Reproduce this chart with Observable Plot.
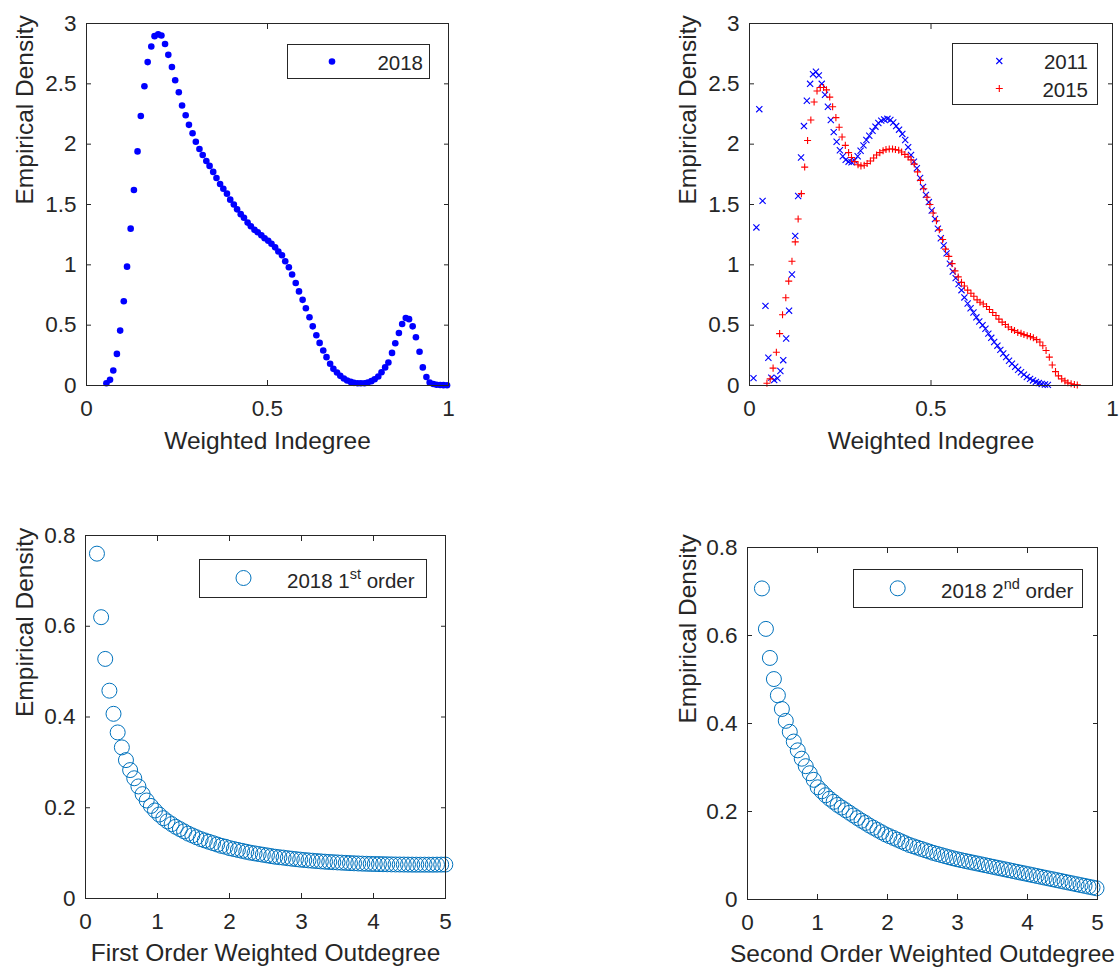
<!DOCTYPE html>
<html><head><meta charset="utf-8">
<script src="https://cdn.jsdelivr.net/npm/d3@7"></script>
<script src="https://cdn.jsdelivr.net/npm/@observablehq/plot@0.6"></script>
<style>
html,body{margin:0;padding:0;background:#fff;}
#root{position:relative;width:1120px;height:967px;overflow:hidden;background:#fff;font-family:"Liberation Sans",Arial,sans-serif;}
.panel{position:absolute;}
#legend{position:absolute;left:0;top:0;pointer-events:none;}
</style></head><body><div id="root"></div>
<script>
// ---------------- DATA ----------------
// Panel 1: 2018 weighted indegree density
const in2018X = [0.055,0.065,0.074,0.084,0.093,0.103,0.112,0.122,0.131,0.141,0.150,0.160,0.169,0.179,0.188,0.198,0.207,0.217,0.226,0.236,0.245,0.255,0.264,0.274,0.283,0.293,0.302,0.312,0.321,0.331,0.340,0.350,0.359,0.369,0.378,0.388,0.397,0.407,0.416,0.426,0.435,0.445,0.454,0.464,0.473,0.483,0.492,0.502,0.511,0.521,0.530,0.540,0.549,0.559,0.568,0.578,0.587,0.597,0.606,0.616,0.625,0.635,0.644,0.654,0.663,0.673,0.682,0.692,0.701,0.711,0.720,0.730,0.739,0.749,0.758,0.768,0.777,0.787,0.796,0.806,0.815,0.825,0.834,0.844,0.853,0.863,0.872,0.882,0.891,0.901,0.910,0.920,0.929,0.939,0.948,0.958,0.967,0.977,0.986,0.996];
const in2018Y = [0.019,0.047,0.124,0.262,0.455,0.698,0.985,1.30,1.62,1.94,
  2.233,2.48,2.68,2.81,2.895,2.91,2.90,2.83,2.74,2.64,
  2.53,2.43,2.32,2.24,2.16,2.09,2.02,1.96,1.91,1.86,
  1.82,1.77,1.72,1.67,1.63,1.59,1.54,1.50,1.46,1.42,
  1.39,1.35,1.32,1.29,1.27,1.245,1.22,1.20,1.175,1.145,
  1.11,1.08,1.03,0.98,0.92,0.85,0.78,0.71,0.64,0.566,
  0.49,0.417,0.353,0.29,0.235,0.18,0.138,0.108,0.08,0.058,
  0.041,0.03,0.022,0.019,0.019,0.019,0.025,0.036,0.052,0.075,
  0.11,0.15,0.19,0.27,0.35,0.435,0.51,0.56,0.55,0.49,
  0.40,0.28,0.15,0.07,0.025,0.012,0.006,0.004,0.003,0.002];

// Panel 2: 2011 and 2015 weighted indegree densities
const in2011X = [0.011,0.019,0.027,0.036,0.044,0.052,0.060,0.068,0.077,0.085,0.093,0.101,0.109,0.117,0.126,0.134,0.142,0.150,0.158,0.167,0.175,0.183,0.191,0.199,0.208,0.216,0.224,0.232,0.240,0.249,0.257,0.265,0.273,0.281,0.289,0.298,0.306,0.314,0.322,0.330,0.339,0.347,0.355,0.363,0.371,0.380,0.388,0.396,0.404,0.412,0.421,0.429,0.437,0.445,0.453,0.461,0.470,0.478,0.486,0.494,0.502,0.511,0.519,0.527,0.535,0.543,0.552,0.560,0.568,0.576,0.584,0.592,0.601,0.609,0.617,0.625,0.633,0.642,0.650,0.658,0.666,0.674,0.683,0.691,0.699,0.707,0.715,0.723,0.732,0.740,0.748,0.756,0.764,0.773,0.781,0.789,0.797,0.805,0.814,0.822];
const in2011Y = [0.061,1.31,2.29,1.53,0.66,0.23,0.065,0.045,0.06,0.12,
  0.21,0.39,0.62,0.92,1.24,1.57,1.89,2.15,2.36,2.50,
  2.58,2.60,2.57,2.50,2.41,2.31,2.20,2.10,2.02,1.95,
  1.90,1.87,1.855,1.85,1.865,1.90,1.945,1.99,2.035,2.07,
  2.11,2.145,2.175,2.195,2.205,2.21,2.20,2.18,2.15,2.12,
  2.085,2.035,1.975,1.91,1.855,1.80,1.72,1.645,1.58,1.52,
  1.45,1.38,1.30,1.22,1.16,1.095,1.01,0.945,0.89,0.84,
  0.79,0.73,0.68,0.64,0.605,0.565,0.53,0.50,0.47,0.43,
  0.395,0.36,0.33,0.295,0.265,0.235,0.205,0.18,0.155,0.13,
  0.11,0.09,0.07,0.055,0.042,0.03,0.02,0.013,0.008,0.005];
const in2015X = [0.048,0.057,0.065,0.074,0.083,0.091,0.100,0.108,0.117,0.126,0.134,0.143,0.152,0.160,0.169,0.178,0.186,0.195,0.204,0.212,0.221,0.229,0.238,0.247,0.255,0.264,0.273,0.281,0.290,0.299,0.307,0.316,0.324,0.333,0.342,0.350,0.359,0.368,0.376,0.385,0.394,0.402,0.411,0.419,0.428,0.437,0.445,0.454,0.463,0.471,0.480,0.489,0.497,0.506,0.515,0.523,0.532,0.540,0.549,0.558,0.566,0.575,0.584,0.592,0.601,0.610,0.618,0.627,0.635,0.644,0.653,0.661,0.670,0.679,0.687,0.696,0.705,0.713,0.722,0.730,0.739,0.748,0.756,0.765,0.774,0.782,0.791,0.800,0.808,0.817,0.826,0.834,0.843,0.851,0.860,0.869,0.877,0.886,0.895,0.903];
const in2015Y = [0.019,0.055,0.144,0.276,0.43,0.586,0.727,0.865,1.03,1.19,
  1.38,1.59,1.81,2.03,2.20,2.35,2.44,2.47,2.47,2.45,
  2.39,2.31,2.22,2.14,2.06,1.99,1.93,1.89,1.855,1.83,
  1.82,1.825,1.84,1.86,1.885,1.91,1.93,1.945,1.955,1.96,
  1.96,1.955,1.95,1.935,1.915,1.895,1.87,1.835,1.77,1.70,
  1.63,1.56,1.50,1.43,1.365,1.29,1.21,1.13,1.07,1.01,
  0.95,0.90,0.855,0.825,0.79,0.765,0.74,0.71,0.69,0.675,
  0.655,0.63,0.605,0.58,0.55,0.525,0.505,0.485,0.465,0.455,
  0.44,0.432,0.422,0.413,0.405,0.395,0.38,0.36,0.33,0.29,
  0.235,0.17,0.115,0.08,0.055,0.038,0.022,0.014,0.008,0.005];

// Panel 3: 2018 first order weighted outdegree density
const out1X = [0.159,0.217,0.274,0.332,0.389,0.447,0.505,0.562,0.620,0.677,0.735,0.793,0.850,0.908,0.965,1.023,1.081,1.138,1.196,1.253,1.311,1.369,1.426,1.484,1.541,1.599,1.657,1.714,1.772,1.829,1.887,1.945,2.002,2.060,2.117,2.175,2.233,2.290,2.348,2.405,2.463,2.521,2.578,2.636,2.693,2.751,2.809,2.866,2.924,2.981,3.039,3.097,3.154,3.212,3.269,3.327,3.385,3.442,3.500,3.557,3.615,3.673,3.730,3.788,3.845,3.903,3.961,4.018,4.076,4.133,4.191,4.249,4.306,4.364,4.421,4.479,4.537,4.594,4.652,4.709,4.767,4.825,4.882,4.940,4.997];
const out1Y = [0.760,0.620,0.528,0.458,0.407,0.366,0.333,0.305,0.283,0.265,
  0.247,0.230,0.216,0.204,0.194,0.185,0.177,0.170,0.164,0.158,
  0.153,0.148,0.143,0.139,0.135,0.131,0.128,0.125,0.122,0.119,
  0.116,0.114,0.111,0.109,0.107,0.105,0.103,0.101,0.0995,0.098,
  0.0965,0.095,0.0935,0.092,0.091,0.090,0.0888,0.0877,0.0867,0.0857,
  0.0848,0.084,0.0832,0.0825,0.0818,0.0811,0.0805,0.0800,0.0795,0.0790,
  0.0785,0.0780,0.0776,0.0772,0.0768,0.0765,0.0762,0.0760,0.0758,0.0756,
  0.0754,0.0752,0.0750,0.0749,0.0748,0.0747,0.0746,0.0745,0.0745,0.0745,
  0.0745,0.0745,0.0746,0.0747,0.0748];

// Panel 4: 2018 second order weighted outdegree density
const out2X = [0.206,0.263,0.320,0.377,0.434,0.491,0.547,0.604,0.661,0.718,0.775,0.832,0.889,0.946,1.003,1.060,1.116,1.173,1.230,1.287,1.344,1.401,1.458,1.515,1.572,1.629,1.685,1.742,1.799,1.856,1.913,1.970,2.027,2.084,2.141,2.198,2.254,2.311,2.368,2.425,2.482,2.539,2.596,2.653,2.710,2.767,2.823,2.880,2.937,2.994,3.051,3.108,3.165,3.222,3.279,3.336,3.392,3.449,3.506,3.563,3.620,3.677,3.734,3.791,3.848,3.905,3.961,4.018,4.075,4.132,4.189,4.246,4.303,4.360,4.417,4.474,4.530,4.587,4.644,4.701,4.758,4.815,4.872,4.929,4.986];
const out2Y = [0.707,0.615,0.549,0.501,0.464,0.433,0.406,0.381,0.359,0.339,
  0.320,0.303,0.287,0.272,0.255,0.246,0.237,0.229,0.222,0.215,
  0.209,0.203,0.197,0.191,0.185,0.179,0.174,0.168,0.163,0.158,
  0.153,0.148,0.144,0.140,0.136,0.132,0.128,0.124,0.121,0.118,
  0.115,0.112,0.109,0.106,0.1035,0.101,0.0985,0.096,0.0937,0.0915,
  0.0895,0.0876,0.0857,0.0838,0.0819,0.0800,0.0781,0.0762,0.0743,0.0724,
  0.0705,0.0686,0.0667,0.0648,0.0629,0.0610,0.0592,0.0573,0.0554,0.0535,
  0.0516,0.0497,0.0478,0.0460,0.0441,0.0422,0.0403,0.0384,0.0366,0.0347,
  0.0328,0.0310,0.0291,0.0273,0.0255];

// Axis ticks & labels
const indegTicksX = [0, 0.5, 1];
const indegTicksY = [0, 0.5, 1, 1.5, 2, 2.5, 3];
const outTicksX = [0, 1, 2, 3, 4, 5];
const outTicksY = [0, 0.2, 0.4, 0.6, 0.8];
const yLabel = "Empirical Density";
const xLabels = ["Weighted Indegree", "Weighted Indegree", "First Order Weighted Outdegree", "Second Order Weighted Outdegree"];
const legendNames = ["2018", "2011", "2015", "2018 1", "st", " order", "2018 2", "nd", " order"];

// ---------------- STYLE ----------------
const FONT = '"Liberation Sans", Arial, Helvetica, sans-serif';
const INK = "#262626";
const BLUE = "#0000ff", RED = "#ff0000", MBLUE = "#0072bd";
const fmt = d => String(d);

const root = document.getElementById("root");

function panel({left, top, width, height, ml, mr, mt, mb, xDomain, yDomain, xTicks, yTicks, marks, xLabel, xLabelDy, yLabelDx}) {
  const chart = Plot.plot({
    width, height, marginLeft: ml, marginRight: mr, marginTop: mt, marginBottom: mb,
    style: {fontFamily: FONT, fontSize: "22.5px", color: INK, background: "transparent", overflow: "visible"},
    x: {domain: xDomain, label: null},
    y: {domain: yDomain, label: null},
    marks: [
      ...marks,
      Plot.frame({stroke: INK, strokeWidth: 1}),
      Plot.axisX(xTicks, {anchor: "bottom", tickSize: -5, tickPadding: 20, tickFormat: fmt, label: null, stroke: INK, fill: INK, fontSize: 22.5}),
      Plot.axisX(xTicks, {anchor: "top", tickSize: -5, tickFormat: () => "", label: null, stroke: INK}),
      Plot.axisY(yTicks, {anchor: "left", tickSize: -5, tickPadding: 15, tickFormat: fmt, label: null, stroke: INK, fill: INK, fontSize: 22.5}),
      Plot.axisY(yTicks, {anchor: "right", tickSize: -5, tickFormat: () => "", label: null, stroke: INK}),
      Plot.text([xLabel], {frameAnchor: "bottom", lineAnchor: "top", dy: xLabelDy, fontSize: 24.5, fill: INK, text: d => d}),
      Plot.text([yLabel], {frameAnchor: "left", rotate: -90, dx: yLabelDx, lineAnchor: "middle", fontSize: 24.5, fill: INK, text: d => d})
    ]
  });
  chart.classList.add("panel");
  chart.style.left = left + "px";
  chart.style.top = top + "px";
  root.appendChild(chart);
}

// Top-left
panel({left: 0, top: 0, width: 460, height: 460, ml: 86, mr: 12, mt: 23, mb: 75,
  xDomain: [0, 1], yDomain: [0, 3], xTicks: indegTicksX, yTicks: indegTicksY,
  xLabel: xLabels[0], xLabelDy: 46, yLabelDx: -61,
  marks: [Plot.dot(in2018X, {x: in2018X, y: in2018Y, r: 3.3, fill: BLUE, stroke: null})]});

// Top-right
panel({left: 660, top: 0, width: 460, height: 460, ml: 89, mr: 8, mt: 23, mb: 75,
  xDomain: [0, 1], yDomain: [0, 3], xTicks: indegTicksX, yTicks: indegTicksY,
  xLabel: xLabels[1], xLabelDy: 46, yLabelDx: -61,
  marks: [
    Plot.dot(in2011X, {x: in2011X, y: in2011Y, symbol: "times", r: 2.9, stroke: BLUE, strokeWidth: 1.1, fill: null}),
    Plot.dot(in2015X, {x: in2015X, y: in2015Y, symbol: "plus", r: 2.4, stroke: RED, strokeWidth: 1.1, fill: null})
  ]});

// Bottom-left
panel({left: 0, top: 520, width: 460, height: 447, ml: 85, mr: 15, mt: 15, mb: 69,
  xDomain: [0, 5], yDomain: [0, 0.8], xTicks: outTicksX, yTicks: outTicksY,
  xLabel: xLabels[2], xLabelDy: 45, yLabelDx: -60,
  marks: [Plot.dot(out1X, {x: out1X, y: out1Y, r: 7.5, stroke: MBLUE, strokeWidth: 1, fill: "none"})]});

// Bottom-right
panel({left: 660, top: 520, width: 460, height: 447, ml: 87, mr: 23, mt: 27, mb: 68,
  xDomain: [0, 5], yDomain: [0, 0.8], xTicks: outTicksX, yTicks: outTicksY,
  xLabel: xLabels[3], xLabelDy: 45, yLabelDx: -59,
  marks: [Plot.dot(out2X, {x: out2X, y: out2Y, r: 7.5, stroke: MBLUE, strokeWidth: 1, fill: "none"})]});

// ---------------- LEGENDS (overlay) ----------------
const NS = "http://www.w3.org/2000/svg";
const lg = document.createElementNS(NS, "svg");
lg.setAttribute("id", "legend");
lg.setAttribute("width", 1120);
lg.setAttribute("height", 967);
lg.style.fontFamily = FONT;
root.appendChild(lg);
function el(tag, attrs, parent = lg) {
  const e = document.createElementNS(NS, tag);
  for (const k in attrs) e.setAttribute(k, attrs[k]);
  parent.appendChild(e);
  return e;
}
function box(x, y, w, h) {
  el("rect", {x: x + 0.5, y: y + 0.5, width: w, height: h, fill: "#fff", stroke: INK, "stroke-width": 1});
}
function label(x, y, anchor, str) {
  const t = el("text", {x, y, "text-anchor": anchor, "font-size": 20.5, fill: INK});
  t.textContent = str;
  return t;
}
function supLabel(x, y, a, b, c) {
  const t = el("text", {x, y, "text-anchor": "start", "font-size": 20.5, fill: INK});
  const s1 = el("tspan", {}, t); s1.textContent = a;
  const s2 = el("tspan", {dy: -9, "font-size": 14.5}, t); s2.textContent = b;
  const s3 = el("tspan", {dy: 9}, t); s3.textContent = c;
}
// TL legend
box(287, 44, 142, 34);
el("circle", {cx: 332, cy: 61.5, r: 3.3, fill: BLUE});
label(423, 69.5, "end", legendNames[0]);
// TR legend
box(952, 43, 145, 61);
el("path", {d: "M996.3,58 L1002.3,64 M996.3,64 L1002.3,58", stroke: BLUE, "stroke-width": 1.1, fill: "none"});
el("path", {d: "M995.8,88.5 L1002.8,88.5 M999.3,85 L999.3,92", stroke: RED, "stroke-width": 1.1, fill: "none"});
label(1088, 69, "end", legendNames[1]);
label(1088, 97, "end", legendNames[2]);
// BL legend
box(199, 559, 227, 38);
el("circle", {cx: 243.5, cy: 578, r: 7.5, fill: "none", stroke: MBLUE, "stroke-width": 1});
supLabel(287, 588.3, legendNames[3], legendNames[4], legendNames[5]);
// BR legend
box(853, 569, 229, 38);
el("circle", {cx: 897.7, cy: 588.3, r: 7.5, fill: "none", stroke: MBLUE, "stroke-width": 1});
supLabel(941, 598.3, legendNames[6], legendNames[7], legendNames[8]);
</script>
</body></html>
